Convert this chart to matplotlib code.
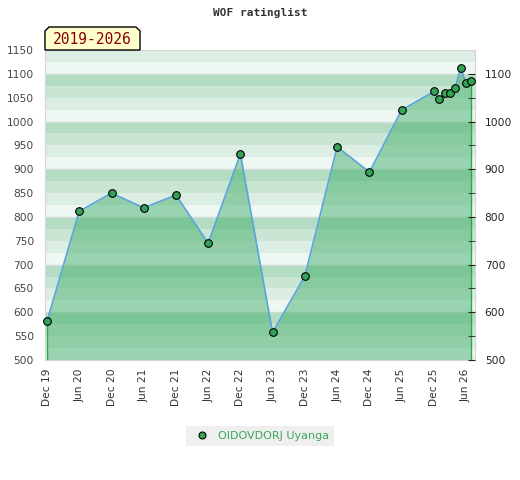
import pandas as pd
import matplotlib
matplotlib.use('Agg')
import matplotlib.pyplot as plt
import matplotlib.dates as mdates
from matplotlib.patches import Polygon
from matplotlib.lines import Line2D

# Datos del grafico
fechas = ['2019-12-01', '2020-06-01', '2020-12-01', '2021-06-01', '2021-12-01',
          '2022-06-01', '2022-12-01', '2023-06-01', '2023-12-01', '2024-06-01',
          '2024-12-01', '2025-06-01', '2025-12-01', '2026-01-01', '2026-02-01',
          '2026-03-01', '2026-04-01', '2026-05-01', '2026-06-01', '2026-07-01']
ratings = [581, 812, 850, 819, 846, 745, 932, 558, 676, 947,
           894, 1024, 1063, 1047, 1059, 1059, 1070, 1112, 1081, 1085]
tick_fechas = pd.date_range('2019-12-01', '2026-06-01', freq='6MS')
tick_labels = [d.strftime('%b %y') for d in tick_fechas]
jugador = 'OIDOVDORJ Uyanga'
titulo = 'WOF ratinglist'
periodo = '2019-2026'

x = pd.to_datetime(fechas)

fig = plt.figure(figsize=(5.2, 4.8), dpi=100)
ax = fig.add_axes([45/520, 120/480, 430/520, 310/480])

# Franjas de fondo
colores = ['#eff7f2', '#dcede3', '#c9e6d4', '#b3dcc3']
for v in range(500, 1150, 25):
    ax.axhspan(v, v + 25, color=colores[(v // 25) % 4], lw=0, zorder=0)
for v in range(600, 1150, 100):
    ax.axhline(v, color='#d3dcd6', lw=1, zorder=0.5)

# Area y linea
ax.fill_between(x, ratings, 500, color='#3fac66', alpha=0.48, lw=0, zorder=1)
ax.vlines([x[0], x[-1]], 500, [ratings[0], ratings[-1]], color='#2ea84f', lw=1, zorder=2)
ax.plot(x, ratings, color='#5aa5dc', lw=1.2, zorder=3)
ax.plot(x, ratings, 'o', ms=5.5, mfc='#34a356', mec='black', mew=0.8, zorder=4, clip_on=False)

ax.set_ylim(500, 1150)
ax.set_xlim(pd.Timestamp('2019-11-20'), pd.Timestamp('2026-07-22'))
ax.set_yticks(range(500, 1151, 50))
ax.tick_params(axis='y', length=0, labelsize=7.7, labelcolor='#444444', pad=8)
ax.set_xticks(tick_fechas)
ax.set_xticklabels(tick_labels, rotation=90)
ax.tick_params(axis='x', length=0, labelsize=7.7, labelcolor='#333333', pad=6)

for s in ax.spines.values():
    s.set_color('#d5d5d5')

# Eje derecho
ax2 = ax.twinx()
ax2.set_ylim(500, 1150)
ax2.set_yticks(range(500, 1101, 100))
ax2.set_yticks(range(550, 1101, 100), minor=True)
ax2.tick_params(axis='y', which='both', direction='in', length=5, color='#222222',
                labelsize=7.7, labelcolor='#222222', pad=7)
for s in ax2.spines.values():
    s.set_visible(False)

# Titulo y etiqueta del periodo
fig.text(0.5, 1 - 13/480, titulo, ha='center', va='center', family='DejaVu Sans Mono',
         weight='bold', fontsize=8, color='#333333')
px = [(45, 50), (45, 31), (49, 27), (136, 27), (140, 31), (140, 50)]
caja = Polygon([(a/520, 1 - b/480) for a, b in px], closed=True, transform=fig.transFigure,
               facecolor='#ffffcc', edgecolor='black', lw=1)
fig.add_artist(caja)
fig.text(92.5/520, 1 - 39.5/480, periodo, ha='center', va='center', family='DejaVu Sans Mono',
         fontsize=10.5, color='#8b0000')

# Leyenda
handle = Line2D([], [], ls='none', marker='o', ms=5, mfc='#34a356', mec='black', mew=0.8)
fig.legend([handle], [jugador], loc='center', bbox_to_anchor=(0.5, 1 - 436/480),
           facecolor='#efefef', edgecolor='none', framealpha=1, fancybox=False,
           fontsize=8, labelcolor='#3aa858', handletextpad=0.4, borderpad=0.45)

fig.savefig('out.png', dpi=100)
